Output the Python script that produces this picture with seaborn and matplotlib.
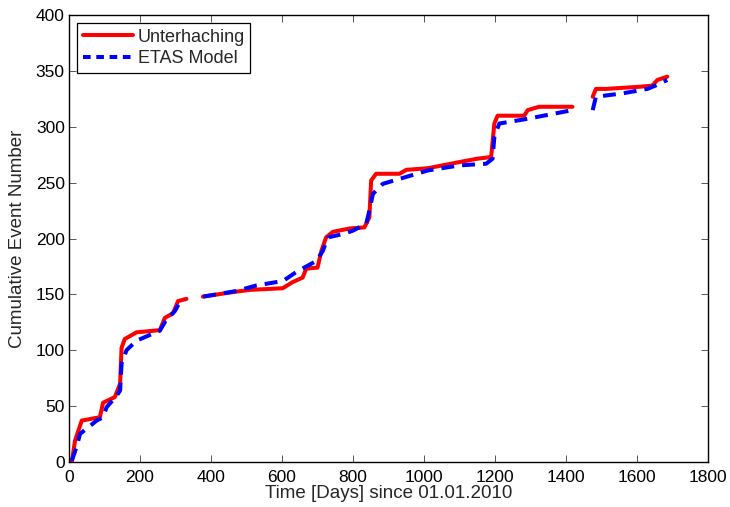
import numpy as np
import pandas as pd
import matplotlib
matplotlib.use('Agg')
import matplotlib.pyplot as plt
from matplotlib.lines import Line2D
import seaborn as sns

# observed catalogue (NaN = gap in the record)
obs_days = [8, 17, 36, 87, 96, 129, 144, 148, 157, 190, 256, 270, 293, 307, 331,
            np.nan,
            377, 461, 509, 602, 630, 658, 668, 700, 711, 724, 743, 790, 832, 846,
            851, 865, 931, 950, 1011, 1100, 1150, 1189, 1198, 1207, 1282, 1292,
            1324, 1418,
            np.nan,
            1475, 1484, 1512, 1610, 1643, 1657, 1685]
obs_count = [0, 19, 37, 40, 53, 58, 70, 102, 110, 116, 118, 129, 133, 144, 146,
             np.nan,
             148, 152, 154, 155.5, 161, 165, 173, 174, 189, 201, 206, 209, 210, 219,
             252, 258, 258, 261.5, 263, 268.5, 271.5, 273, 303, 310, 310, 315,
             318, 318,
             np.nan,
             327, 334, 334, 336, 337, 342, 345]

# ETAS model
etas_days = [8, 22, 31, 78, 96, 106, 134, 144, 148, 162, 190, 256, 275, 298, 312, 326,
             np.nan,
             378, 471, 528, 603, 640, 697, 715, 729, 771, 799, 837, 846, 856, 884,
             1011, 1100, 1175, 1193, 1198, 1212, 1287, 1418,
             np.nan,
             1475, 1484, 1559, 1629, 1652, 1685]
etas_count = [1, 14, 25, 37, 40, 49, 59, 64, 88, 100, 108.5, 117.5, 128, 135, 143, 145,
              np.nan,
              148, 153, 158, 162, 170, 180, 189, 201, 204, 207, 213, 225, 240, 249,
              261, 265.5, 267, 271.5, 291, 303, 307, 315,
              np.nan,
              315, 327, 330, 334, 337, 342]


def to_frame(days, count):
    df = pd.DataFrame({'day': days, 'n': count})
    df['seg'] = df['day'].isna().cumsum()
    return df.dropna()


obs = to_frame(obs_days, obs_count)
etas = to_frame(etas_days, etas_count)

sns.set_style('ticks')
plt.rcParams['font.family'] = ['Liberation Sans', 'DejaVu Sans']

fig, ax = plt.subplots(figsize=(7.3, 5.07), dpi=100)
fig.subplots_adjust(left=0.0945, right=0.970, bottom=0.089, top=0.970)

dash = (0, (3.2, 2.0))
sns.lineplot(data=obs, x='day', y='n', units='seg', estimator=None, sort=False,
             color='#ff0000', linewidth=2.9, ax=ax)
n_red = len(ax.lines)
sns.lineplot(data=etas, x='day', y='n', units='seg', estimator=None, sort=False,
             color='#0000ff', linewidth=2.9, ax=ax)
for ln in ax.lines[n_red:]:
    ln.set_linestyle(dash)

ax.set_xlim(0, 1800)
ax.set_ylim(0, 400)
ax.set_xticks(range(0, 1801, 200))
ax.set_yticks(range(0, 401, 50))
ax.tick_params(direction='in', length=5, width=0.7, top=True, right=True,
               labelsize=12.5, color='#555555', labelcolor='black')
ax.tick_params(axis='x', pad=6)
ax.tick_params(axis='y', pad=3)
for s in ax.spines.values():
    s.set_linewidth(1.0)
    s.set_color('black')

ax.set_xlabel('Time [Days] since 01.01.2010', fontsize=13.5, labelpad=0)
ax.set_ylabel('Cumulative Event Number', fontsize=13.5, labelpad=7)

handles = [Line2D([], [], color='#ff0000', lw=2.9),
           Line2D([], [], color='#0000ff', lw=2.9, linestyle=(0, (1.9, 1.4)))]
leg = ax.legend(handles, ['Unterhaching', 'ETAS Model'], loc='upper left',
                fontsize=13, frameon=True, fancybox=False, framealpha=1,
                edgecolor='black', borderpad=0.3, labelspacing=0.25,
                handlelength=2.8, handletextpad=0.25, borderaxespad=0.45)
leg.get_frame().set_linewidth(0.9)

fig.savefig('out.png', dpi=100)
